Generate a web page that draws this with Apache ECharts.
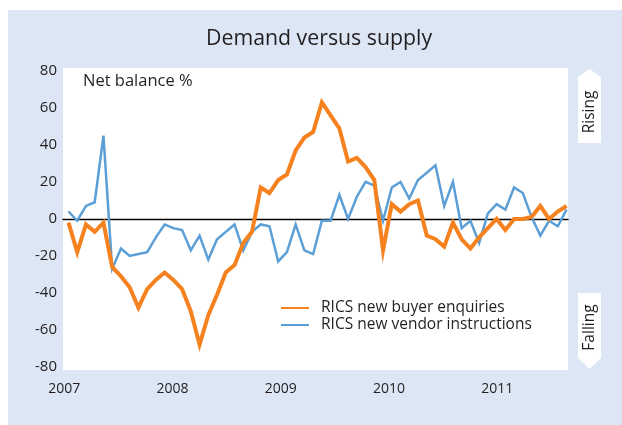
<!DOCTYPE html>
<html>
<head>
<meta charset="utf-8">
<script src="https://cdn.jsdelivr.net/npm/echarts@6/dist/echarts.min.js"></script>
<style>
  html, body { margin: 0; padding: 0; background: #ffffff; }
  #wrap { position: relative; width: 622px; height: 425px; background: #ffffff; }
  #panel { position: absolute; left: 8px; top: 10px; width: 614px; height: 415px; background: #dce6f4; }
  #chart { position: absolute; left: 0; top: 0; width: 622px; height: 425px; }
</style>
</head>
<body>
<div id="wrap"><div id="panel"></div><div id="chart"></div></div>
<script>
const months = [
  'Jan 2007','Feb 2007','Mar 2007','Apr 2007','May 2007','Jun 2007','Jul 2007','Aug 2007','Sep 2007','Oct 2007','Nov 2007','Dec 2007',
  'Jan 2008','Feb 2008','Mar 2008','Apr 2008','May 2008','Jun 2008','Jul 2008','Aug 2008','Sep 2008','Oct 2008','Nov 2008','Dec 2008',
  'Jan 2009','Feb 2009','Mar 2009','Apr 2009','May 2009','Jun 2009','Jul 2009','Aug 2009','Sep 2009','Oct 2009','Nov 2009','Dec 2009',
  'Jan 2010','Feb 2010','Mar 2010','Apr 2010','May 2010','Jun 2010','Jul 2010','Aug 2010','Sep 2010','Oct 2010','Nov 2010','Dec 2010',
  'Jan 2011','Feb 2011','Mar 2011','Apr 2011','May 2011','Jun 2011','Jul 2011','Aug 2011','Sep 2011','Oct 2011'
];
const yearLabels = [2007, 2008, 2009, 2010, 2011];
const yTickLabels = [-80, -60, -40, -20, 0, 20, 40, 60, 80];

const buyerEnquiries = [
  -2, -18, -3, -7, -2, -26, -31, -37, -48, -38, -33, -29,
  -33, -38, -50, -68, -52, -41, -29, -25, -13, -7, 17, 14,
  21, 24, 37, 44, 47, 63, 56, 49, 31, 33, 28, 21,
  -17, 8, 4, 8, 10, -9, -11, -15, -2, -11, -16, -10,
  -5, 0, -6, 0, 0, 1, 7, 0, 4, 7
];
const vendorInstructions = [
  4, -1, 7, 9, 45, -27, -16, -20, -19, -18, -10, -3,
  -5, -6, -17, -9, -22, -11, -7, -3, -17, -7, -3, -4,
  -23, -18, -3, -17, -19, -1, -1, 13, 0, 12, 20, 18,
  -1, 17, 20, 11, 21, 25, 29, 7, 20, -5, -1, -13,
  3, 8, 5, 17, 14, 1, -9, -1, -4, 5
];

const seriesNames = ['RICS new buyer enquiries', 'RICS new vendor instructions'];
const FONT = 'Open Sans';
const TXT = '#231f20';

const chart = echarts.init(document.getElementById('chart'), null, { renderer: 'canvas' });

chart.setOption({
  backgroundColor: 'transparent',
  animation: false,
  textStyle: { fontFamily: FONT, color: TXT },
  title: {
    text: 'Demand versus supply',
    left: 206,
    top: 28,
    padding: 0,
    textStyle: { fontFamily: FONT, fontSize: 21.3, fontWeight: 'normal', color: TXT }
  },
  grid: {
    left: 63, right: 54, top: 68, bottom: 55,
    show: true, backgroundColor: '#ffffff', borderWidth: 0
  },
  legend: {
    orient: 'vertical',
    left: 280,
    top: 300,
    padding: 0,
    itemWidth: 28,
    itemHeight: 14,
    itemGap: 1,
    itemStyle: { opacity: 0 },
    textStyle: { fontFamily: FONT, fontSize: 15.5, lineHeight: 14, color: TXT, padding: [0, 0, 0, 7] },
    data: seriesNames
  },
  xAxis: [
    {
      type: 'value',
      min: -0.63,
      max: 57.17,
      position: 'bottom',
      axisLine: { show: true, onZero: true, lineStyle: { color: '#000000', width: 1.3 } },
      axisTick: { show: false },
      axisLabel: { show: false },
      splitLine: { show: false }
    },
    {
      type: 'value',
      min: 2006.988,
      max: 2011.653,
      position: 'bottom',
      axisLine: { show: false, onZero: false },
      axisTick: { show: false, customValues: yearLabels },
      splitLine: { show: false },
      axisLabel: {
        customValues: yearLabels,
        margin: 12,
        fontFamily: FONT, fontSize: 14, color: TXT,
        formatter: function (v) { return String(v); }
      }
    }
  ],
  yAxis: {
    type: 'value',
    min: -81.7,
    max: 81.6,
    axisLine: { show: false },
    axisTick: { show: false },
    splitLine: { show: false },
    axisLabel: {
      customValues: yTickLabels,
      margin: 6,
      fontFamily: FONT, fontSize: 15, color: TXT,
      formatter: function (v) { return String(v); }
    }
  },
  series: [
    {
      name: seriesNames[0],
      type: 'line',
      xAxisIndex: 0,
      data: months.map(function (m, i) { return [i, buyerEnquiries[i]]; }),
      symbol: 'none',
      showSymbol: false,
      z: 4,
      lineStyle: { color: '#f5821f', width: 4, join: 'miter' },
      itemStyle: { color: '#f5821f' }
    },
    {
      name: seriesNames[1],
      type: 'line',
      xAxisIndex: 0,
      data: months.map(function (m, i) { return [i, vendorInstructions[i]]; }),
      symbol: 'none',
      showSymbol: false,
      z: 3,
      lineStyle: { color: '#5b9fd6', width: 2.5, join: 'miter' },
      itemStyle: { color: '#5b9fd6' }
    }
  ],
  graphic: [
    {
      type: 'text', left: 83, top: 73,
      style: { text: 'Net balance %', fontFamily: FONT, fontSize: 16.5, fill: TXT }
    },
    {
      type: 'polygon',
      shape: { points: [[578, 77], [589.5, 69], [601, 77], [601, 143], [578, 143]] },
      style: { fill: '#ffffff' }
    },
    {
      type: 'text', x: 590, y: 112, rotation: Math.PI / 2,
      style: { text: 'Rising', fontFamily: FONT, fontSize: 15.5, fill: TXT, align: 'center', verticalAlign: 'middle' }
    },
    {
      type: 'polygon',
      shape: { points: [[578, 293], [601, 293], [601, 358], [589.5, 369], [578, 358]] },
      style: { fill: '#ffffff' }
    },
    {
      type: 'text', x: 590, y: 327.5, rotation: Math.PI / 2,
      style: { text: 'Falling', fontFamily: FONT, fontSize: 15.5, fill: TXT, align: 'center', verticalAlign: 'middle' }
    }
  ]
});
</script>
</body>
</html>
